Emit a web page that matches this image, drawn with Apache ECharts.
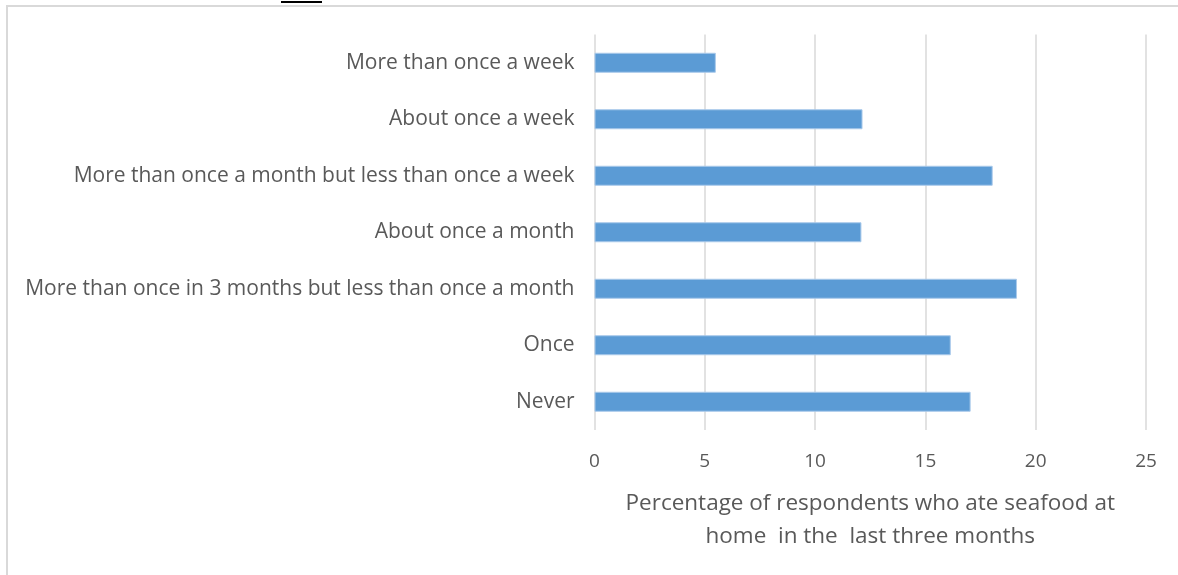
<!DOCTYPE html>
<html>
<head>
<meta charset="utf-8">
<script src="https://cdn.jsdelivr.net/npm/echarts@6/dist/echarts.min.js"></script>
<style>
  html, body { margin: 0; padding: 0; background: #fff; }
  #chart { width: 1178px; height: 575px; }
</style>
</head>
<body>
<div id="chart"></div>
<script>
// Frequency categories, listed bottom to top as drawn on the category axis
const categories = [
  'Never',
  'Once',
  'More than once in 3 months but less than once a month',
  'About once a month',
  'More than once a month but less than once a week',
  'About once a week',
  'More than once a week'
];
// Percentage of respondents for each category
const percentages = [17.05, 16.15, 19.15, 12.1, 18.05, 12.15, 5.5];
// Value axis ticks
const axisMin = 0;
const axisMax = 25;
const axisStep = 5;

const textColor = '#595959';
const fontFamily = '"Open Sans", Lato, sans-serif';

const chart = echarts.init(document.getElementById('chart'), null, { renderer: 'canvas' });

chart.setOption({
  animation: false,
  backgroundColor: '#ffffff',
  grid: {
    left: 594.5,
    right: 32,
    top: 34.5,
    bottom: 145,
    containLabel: false
  },
  xAxis: {
    type: 'value',
    min: axisMin,
    max: axisMax,
    interval: axisStep,
    axisLine: { show: false },
    axisTick: { show: false },
    splitLine: { show: true, lineStyle: { color: '#d9d9d9', width: 1.5 } },
    axisLabel: {
      color: textColor,
      fontFamily: fontFamily,
      fontSize: 19,
      margin: 22
    },
    name: 'Percentage of respondents who ate seafood at\nhome  in the  last three months',
    nameLocation: 'middle',
    nameGap: 57,
    nameTextStyle: {
      color: textColor,
      fontFamily: fontFamily,
      fontSize: 22.5,
      lineHeight: 33
    }
  },
  yAxis: {
    type: 'category',
    data: categories,
    axisLine: { show: false },
    axisTick: { show: false },
    splitLine: { show: false },
    axisLabel: {
      color: textColor,
      fontFamily: fontFamily,
      fontSize: 21,
      margin: 20
    }
  },
  series: [{
    type: 'bar',
    data: percentages,
    barWidth: 20,
    itemStyle: {
      color: '#5b9bd5',
      borderColor: '#a9c9ea',
      borderWidth: 1
    }
  }],
  graphic: [
    {
      type: 'rect',
      shape: { x: 7, y: 6, width: 1200, height: 600 },
      style: { fill: 'none', stroke: '#d9d9d9', lineWidth: 2 },
      silent: true,
      z: -1
    },
    {
      type: 'line',
      shape: { x1: 281, y1: 2, x2: 322, y2: 2 },
      style: { stroke: '#000000', lineWidth: 2 },
      silent: true
    }
  ]
});
</script>
</body>
</html>
